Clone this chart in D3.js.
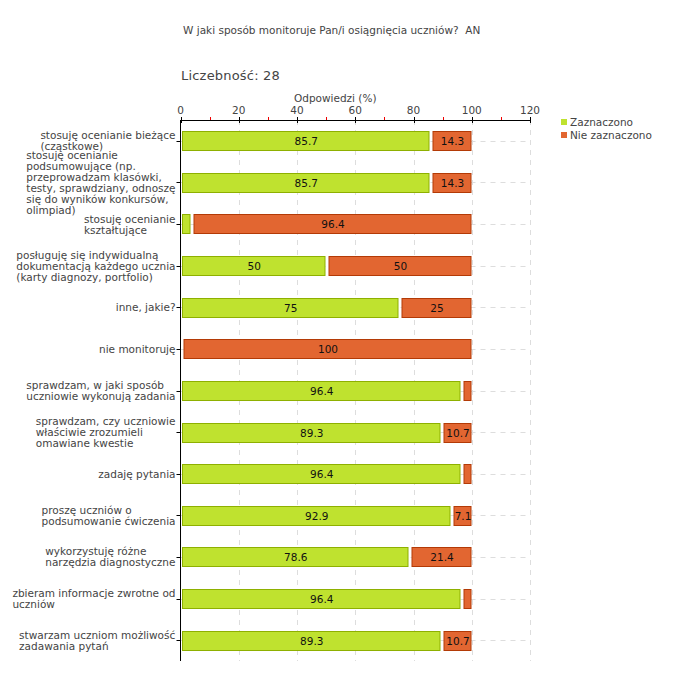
<!DOCTYPE html>
<html><head><meta charset="utf-8">
<script src="https://cdn.jsdelivr.net/npm/d3@7"></script>
<style>
body{margin:0;background:#fff;}
text{font-family:"DejaVu Sans",Verdana,sans-serif;}
</style></head><body>
<svg id="c" width="680" height="680"></svg>
<script>
const title = "W jaki sposób monitoruje Pan/i osiągnięcia uczniów?  AN";
const countLabel = "Liczebność: 28";
const axisTitle = "Odpowiedzi (%)";
const categories = [
  "stosuję ocenianie bieżące\n(cząstkowe)",
  "stosuję ocenianie\npodsumowujące (np.\nprzeprowadzam klasówki,\ntesty, sprawdziany, odnoszę\nsię do wyników konkursów,\nolimpiad)",
  "stosuję ocenianie\nkształtujące",
  "posługuję się indywidualną\ndokumentacją każdego ucznia\n(karty diagnozy, portfolio)",
  "inne, jakie?",
  "nie monitoruję",
  "sprawdzam, w jaki sposób\nuczniowie wykonują zadania",
  "sprawdzam, czy uczniowie\nwłaściwie zrozumieli\nomawiane kwestie",
  "zadaję pytania",
  "proszę uczniów o\npodsumowanie ćwiczenia",
  "wykorzystuję różne\nnarzędzia diagnostyczne",
  "zbieram informacje zwrotne od\nuczniów",
  "stwarzam uczniom możliwość\nzadawania pytań"
];
const seriesNames = ["Zaznaczono", "Nie zaznaczono"];
const zaznaczono = [85.7, 85.7, 3.6, 50, 75, 0, 96.4, 89.3, 96.4, 92.9, 78.6, 96.4, 89.3];
const nieZaznaczono = [14.3, 14.3, 96.4, 50, 25, 100, 3.6, 10.7, 3.6, 7.1, 21.4, 3.6, 10.7];
const majorTicks = [0, 20, 40, 60, 80, 100, 120];
const minorTicks = [10, 30, 50, 70, 90, 110];

const fills = ["#bfe22f", "#e26631"];
const strokes = ["#8eb000", "#b33a06"];
const textColor = "#444";

const svg = d3.select("#c");
const pL = 180.5, pR = 530, pT = 120, pB = 661;
const x = d3.scaleLinear().domain([0, 120]).range([pL, pR]);
const y = d3.scaleBand().domain(d3.range(categories.length)).range([pT, pB]).paddingInner(0.54).paddingOuter(0.27);

svg.append("text").attr("x", 183).attr("y", 34).attr("font-size", 10.5).attr("fill", textColor)
  .style("white-space", "pre").attr("xml:space", "preserve").text(title);
svg.append("text").attr("x", 181).attr("y", 80).attr("font-size", 13).attr("fill", textColor).attr("letter-spacing", 0.2).text(countLabel);
svg.append("text").attr("x", (x(0)+x(120))/2 - 20).attr("y", 102).attr("text-anchor", "middle").attr("font-size", 10.5).attr("fill", textColor).text(axisTitle);

// grid
const g = svg.append("g");
g.selectAll(".vg").data(majorTicks.slice(1)).join("line")
  .attr("x1", d => Math.round(x(d)) + 0.5).attr("x2", d => Math.round(x(d)) + 0.5)
  .attr("y1", pT).attr("y2", pB)
  .attr("stroke", "#ddd").attr("stroke-dasharray", "5,5");
g.selectAll(".hg").data(categories.map((c, i) => i)).join("line")
  .attr("x1", pL).attr("x2", pR)
  .attr("y1", i => Math.round(y(i) + y.bandwidth()/2) + 0.5).attr("y2", i => Math.round(y(i) + y.bandwidth()/2) + 0.5)
  .attr("stroke", "#ddd").attr("stroke-dasharray", "5,5");

// stacked bars
const rows = categories.map((c, i) => ({i, vals: [zaznaczono[i], nieZaznaczono[i]]}));
const segs = [];
rows.forEach(r => {
  let acc = 0;
  r.vals.forEach((v, k) => { segs.push({i: r.i, k, x0: acc, x1: acc + v, v}); acc += v; });
});
const bars = svg.append("g");
segs.filter(s => s.v > 0).forEach(s => {
  const xs = Math.round(x(s.x0)) + (s.k === 0 ? 2 : 3.5);
  const xe = Math.round(x(s.x1)) - 0.5;
  const yt = Math.round(y(s.i)) + 0.5;
  bars.append("rect").attr("x", xs - 0.5).attr("y", yt)
    .attr("width", Math.max(1, xe - xs)).attr("height", Math.round(y.bandwidth()))
    .attr("fill", fills[s.k]).attr("stroke", strokes[s.k]).attr("stroke-width", 1);
  if (s.v > 5) {
    bars.append("text").attr("x", (xs + xe)/2).attr("y", yt + y.bandwidth()/2 + 4)
      .attr("text-anchor", "middle").attr("font-size", 10.5).attr("fill", "#111")
      .text(s.v);
  }
});

// x axis on top
const ax = svg.append("g");
ax.append("line").attr("x1", pL).attr("x2", pR).attr("y1", pT + 0.5).attr("y2", pT + 0.5).attr("stroke", "#000");
ax.selectAll(".mt").data(majorTicks).join("line")
  .attr("x1", d => Math.round(x(d)) + 0.5).attr("x2", d => Math.round(x(d)) + 0.5)
  .attr("y1", pT - 3).attr("y2", pT + 3).attr("stroke", "#000");
ax.selectAll(".nt").data(minorTicks).join("line")
  .attr("x1", d => Math.round(x(d)) + 0.5).attr("x2", d => Math.round(x(d)) + 0.5)
  .attr("y1", pT - 3).attr("y2", pT).attr("stroke", "#e00");
ax.selectAll(".tl").data(majorTicks).join("text")
  .attr("x", d => x(d)).attr("y", pT - 6).attr("text-anchor", "middle")
  .attr("font-size", 10.5).attr("fill", textColor).text(d => d);

// y axis
svg.append("line").attr("x1", pL).attr("x2", pL).attr("y1", pT).attr("y2", pB).attr("stroke", "#000");
svg.selectAll(".yt").data(categories.map((c, i) => i)).join("line")
  .attr("x1", pL - 4).attr("x2", pL)
  .attr("y1", i => Math.round(y(i) + y.bandwidth()/2) + 0.5).attr("y2", i => Math.round(y(i) + y.bandwidth()/2) + 0.5)
  .attr("stroke", "#000");

// category labels: block left-aligned, right-aligned to axis
const lh = 11;
categories.forEach((c, i) => {
  const lines = c.split("\n");
  const cy = y(i) + y.bandwidth()/2;
  const t = svg.append("text").attr("font-size", 10.5).attr("fill", textColor);
  lines.forEach((l, j) => {
    t.append("tspan").attr("x", 0).attr("y", cy - (lines.length - 1) * lh / 2 + j * lh + 4).text(l);
  });
  const w = t.node().getBBox().width;
  t.attr("transform", `translate(${pL - 5 - w},0)`);
});

// legend
const lg = svg.append("g");
seriesNames.forEach((n, k) => {
  lg.append("rect").attr("x", 561).attr("y", 119 + k*13).attr("width", 6).attr("height", 6).attr("fill", fills[k]);
  lg.append("text").attr("x", 570).attr("y", 126 + k*13).attr("font-size", 10.5).attr("fill", textColor).text(n);
});
</script></body></html>
